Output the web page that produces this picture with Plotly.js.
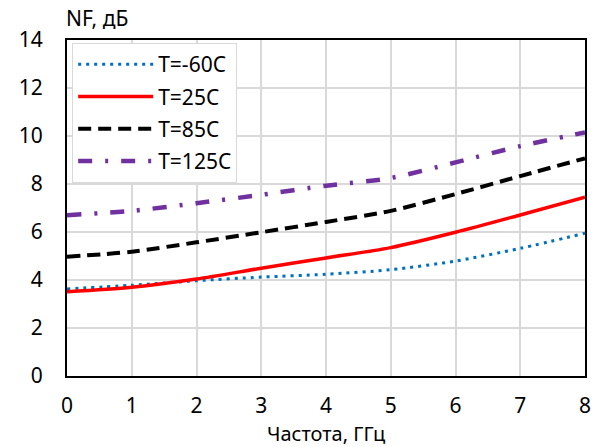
<!DOCTYPE html>
<html><head><meta charset="utf-8">
<script src="https://cdn.plot.ly/plotly-3.0.1.min.js"></script>
<style>body{margin:0;background:#fff}#chart{width:598px;height:447px}</style>
</head><body><div id="chart"></div>
<script>
const freq = [0, 1, 2, 3, 4, 5, 6, 7, 8];
const nfM60 = [3.63, 3.78, 3.97, 4.12, 4.24, 4.43, 4.79, 5.32, 5.95];
const nf25 = [3.51, 3.7, 4.04, 4.49, 4.92, 5.35, 5.99, 6.71, 7.45];
const nf85 = [4.97, 5.18, 5.57, 5.99, 6.42, 6.88, 7.58, 8.33, 9.07];
const nf125 = [6.7, 6.88, 7.2, 7.55, 7.93, 8.25, 8.9, 9.58, 10.15];
const names = ['T=-60C', 'T=25C', 'T=85C', 'T=125C'];
const xTicks = [0, 1, 2, 3, 4, 5, 6, 7, 8];
const yTicks = [0, 2, 4, 6, 8, 10, 12, 14];
const xTitle = 'Частота, ГГц';
const yTitle = 'NF, дБ';

const styles = [
  {color: '#0070C0', width: 3, dash: '3px,5px'},
  {color: '#FF0000', width: 3.5, dash: 'solid'},
  {color: '#000000', width: 4, dash: '13px,7px'},
  {color: '#7030A0', width: 4.5, dash: '14px,13px,3px,13px'}
];
const series = [nfM60, nf25, nf85, nf125];
const data = series.map((ys, i) => ({
  x: freq, y: ys, name: names[i], type: 'scatter', mode: 'lines',
  legendgroup: 'g' + i,
  line: Object.assign({shape: 'spline', smoothing: 0.8}, styles[i])
}));

const font = {family: 'Noto Sans, Open Sans, sans-serif', size: 21, color: '#000'};
const layout = {
  width: 598, height: 447,
  margin: {l: 67, r: 13, t: 40, b: 71},
  paper_bgcolor: '#fff', plot_bgcolor: '#fff',
  font: font,
  showlegend: true,
  legend: {x: 0.01, y: 0.991, xanchor: 'left', yanchor: 'top',
    bgcolor: '#fff', bordercolor: '#d9d9d9', borderwidth: 1,
    font: {family: font.family, size: 21, color: '#000'},
    tracegroupgap: 2, itemwidth: 75},
  xaxis: {range: [0, 8], tickvals: xTicks, ticktext: xTicks.map(String),
    showgrid: true, gridcolor: '#d9d9d9', gridwidth: 2,
    showline: true, linecolor: '#000', linewidth: 2, mirror: true,
    ticks: '', zeroline: false, tickfont: font, ticklabelstandoff: 10},
  yaxis: {range: [0, 14], tickvals: yTicks, ticktext: yTicks.map(String),
    showgrid: true, gridcolor: '#d9d9d9', gridwidth: 2,
    showline: true, linecolor: '#000', linewidth: 2, mirror: true,
    ticks: '', zeroline: false, tickfont: font, ticklabelstandoff: 18},
  annotations: [
    {text: yTitle, xref: 'paper', yref: 'paper', x: 0, y: 1,
     xanchor: 'left', yanchor: 'bottom', yshift: 6, xshift: -3, showarrow: false, font: font},
    {text: xTitle, xref: 'paper', yref: 'paper', x: 0.5, y: 0,
     xanchor: 'center', yanchor: 'middle', yshift: -57, showarrow: false,
     font: {family: font.family, size: 20, color: '#000'}}
  ]
};
Plotly.newPlot('chart', data, layout, {displayModeBar: false, staticPlot: true});
</script></body></html>
